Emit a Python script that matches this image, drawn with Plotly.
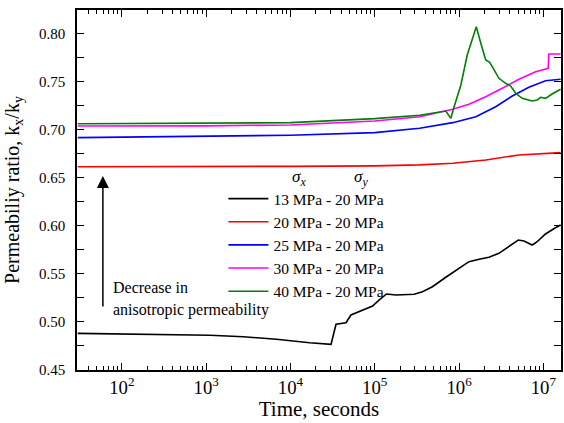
import plotly.graph_objects as go

# ---- data ----
labels = ["13 MPa - 20 MPa", "20 MPa - 20 MPa", "25 MPa - 20 MPa",
          "30 MPa - 20 MPa", "40 MPa - 20 MPa"]
colors = ["#000000", "#ff0000", "#0000ff", "#ff00ff", "#008000"]

t_13 = [30, 181, 1110, 2754, 6820, 1.69e4, 3.03e4, 3.47e4, 4.56e4, 5.22e4, 7.87e4, 9.42e4,
        1.13e5, 1.38e5, 1.78e5, 2.93e5, 3.68e5, 4.83e5, 6.96e5, 1.0e6, 1.31e6, 1.73e6,
        2.26e6, 2.97e6, 3.91e6, 5.04e6, 5.88e6, 7.37e6, 8.45e6, 1.06e7, 1.39e7, 1.6e7]
r_13 = [0.4881, 0.4871, 0.4861, 0.4846, 0.4819, 0.4784, 0.4767, 0.4975, 0.4992, 0.5072,
        0.5141, 0.5165, 0.5228, 0.5290, 0.5280, 0.5287, 0.5314, 0.5366, 0.5464, 0.5557,
        0.5626, 0.5651, 0.5672, 0.5713, 0.5789, 0.5851, 0.5841, 0.5799, 0.5834, 0.5914,
        0.5979, 0.6007]

t_20 = [30, 1e2, 1e3, 1e4, 1e5, 3.4e5, 8.4e5, 2.07e6, 5.1e6, 1.06e7, 1.6e7]
r_20 = [0.6613, 0.6613, 0.6614, 0.6617, 0.6622, 0.6632, 0.6649, 0.6683, 0.6735, 0.6753, 0.6759]

t_25 = [30, 1e2, 1e3, 1e4, 1e5, 3.4e5, 8.4e5, 1.58e6, 2.72e6, 4.28e6, 6.73e6, 1.06e7, 1.6e7]
r_25 = [0.6915, 0.6920, 0.6925, 0.6940, 0.6967, 0.7012, 0.7071, 0.7133, 0.7237, 0.7348,
        0.7439, 0.7507, 0.7522]

t_30 = [30, 1e2, 1e3, 1e4, 1e5, 3.4e5, 8.4e5, 1.31e6, 2.07e6, 3.25e6, 5.13e6, 8.09e6,
        1.14e7, 1.16e7, 1.6e7]
r_30 = [0.7036, 0.7036, 0.7038, 0.7047, 0.7088, 0.7133, 0.7210, 0.7262, 0.7341, 0.7428,
        0.7522, 0.7601, 0.7636, 0.7785, 0.7785]

t_40 = [30, 1e2, 1e3, 1e4, 1e5, 3.4e5, 6.96e5, 7.98e5, 8.74e5, 1.05e6, 1.25e6, 1.6e6,
        1.81e6, 2.07e6, 2.31e6, 2.97e6, 3.57e6, 4.09e6, 4.69e6, 5.61e6, 7.37e6, 8.45e6,
        9.26e6, 1.06e7, 1.27e7, 1.6e7]
r_40 = [0.7060, 0.7061, 0.7063, 0.7071, 0.7113, 0.7148, 0.7192, 0.7116, 0.7237, 0.7463,
        0.7774, 0.8069, 0.7896, 0.7722, 0.7699, 0.7532, 0.7480, 0.7452, 0.7376, 0.7324,
        0.7296, 0.7307, 0.7335, 0.7324, 0.7369, 0.7418]

series_t = [t_13, t_20, t_25, t_30, t_40]
series_r = [r_13, r_20, r_25, r_30, r_40]

FONT = "Liberation Serif, Times New Roman, serif"

fig = go.Figure()
for i, (lab, col, tt, rr) in enumerate(zip(labels, colors, series_t, series_r)):
    fig.add_trace(go.Scatter(x=tt, y=rr, mode="lines", name=lab,
                             line=dict(color=col, width=1.6), legendgroup=f"g{i}"))

W, H = 564, 423
L, R, T, B = 77, 1, 10, 53
pw, ph = W - L - R, H - T - B

def px(xp):
    return (xp - L) / pw

def py(yp):
    return (H - B - yp) / ph

fig.update_layout(
    width=W, height=H,
    margin=dict(l=L, r=R, t=T, b=B),
    paper_bgcolor="white", plot_bgcolor="white",
    font=dict(family=FONT, size=15, color="black"),
    showlegend=True,
    legend=dict(x=px(224), y=py(182), xanchor="left", yanchor="top",
                bgcolor="rgba(0,0,0,0)", borderwidth=0,
                font=dict(family=FONT, size=15.5, color="black"),
                tracegroupgap=0, itemwidth=40, traceorder="grouped"),
    xaxis=dict(type="log", range=[1.468, 7.209],
               showline=True, linecolor="black", linewidth=1.5, mirror="allticks",
               ticks="inside", ticklen=7, tickwidth=1.3, tickcolor="black",
               exponentformat="power", dtick=1, showgrid=False, zeroline=False,
               minor=dict(ticks="inside", ticklen=4, tickwidth=1.1, tickcolor="black", showgrid=False),
               tickfont=dict(family=FONT, size=15),
               title=dict(text="Time, seconds", font=dict(family=FONT, size=21), standoff=2)),
    yaxis=dict(range=[0.45, 0.8242], dtick=0.05, tick0=0.45, tickformat=".2f",
               showline=True, linecolor="black", linewidth=1.5, mirror="allticks",
               ticks="inside", ticklen=7, tickwidth=1.3, tickcolor="black",
               showgrid=False, zeroline=False,
               minor=dict(ticks="inside", ticklen=7, tickwidth=1.3, tickcolor="black",
                          dtick=0.025, showgrid=False),
               ticklabelstandoff=7,
               tickfont=dict(family=FONT, size=15),
               title=dict(text="Permeabiliy ratio, k<sub>x</sub>/k<sub>y</sub>",
                          font=dict(family=FONT, size=20), standoff=14)),
)

ann = []
ann.append(dict(xref="paper", yref="paper", x=px(300), y=py(177.5), text="<i>σ<sub>x</sub></i>",
                showarrow=False, font=dict(family=FONT, size=17), xanchor="center", yanchor="middle"))
ann.append(dict(xref="paper", yref="paper", x=px(362), y=py(177.5), text="<i>σ<sub>y</sub></i>",
                showarrow=False, font=dict(family=FONT, size=17), xanchor="center", yanchor="middle"))
ann.append(dict(xref="paper", yref="paper", x=px(103), y=py(176), text="", showarrow=True,
                ax=0, ay=132, arrowhead=2, arrowsize=1.6, arrowwidth=1.5, arrowcolor="black"))
ann.append(dict(xref="paper", yref="paper", x=px(111), y=py(287), text="Decrease in",
                showarrow=False, xanchor="left", yanchor="middle", font=dict(family=FONT, size=16)))
ann.append(dict(xref="paper", yref="paper", x=px(111), y=py(310), text="anisotropic permeability",
                showarrow=False, xanchor="left", yanchor="middle", font=dict(family=FONT, size=16)))
fig.update_layout(annotations=ann)

fig.write_html("out.html")
